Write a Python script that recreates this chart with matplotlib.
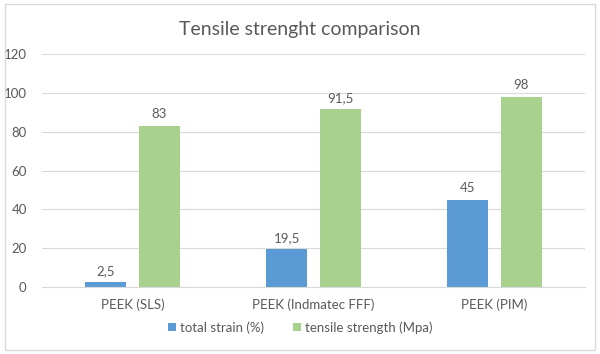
import numpy as np
import matplotlib
matplotlib.use("Agg")
import matplotlib.pyplot as plt
from matplotlib.patches import Rectangle

categories = ["PEEK (SLS)", "PEEK (Indmatec FFF)", "PEEK (PIM)"]
strain = [2.5, 19.5, 45]
strength = [83, 91.5, 98]
series_names = ["total strain (%)", "tensile strength (Mpa)"]
yticks = [0, 20, 40, 60, 80, 100, 120]

blue = "#5B9BD5"
green = "#A9D18E"
grey_text = "#595959"

plt.rcParams["font.family"] = ["Lato", "DejaVu Sans"]

fig = plt.figure(figsize=(6, 3.54), dpi=100)
ax = fig.add_axes([0.07, 0.189, 0.905, 0.658])

# chart border
fig.patches.append(Rectangle((0.008, 0.012), 0.984, 0.976, transform=fig.transFigure,
                             fill=False, edgecolor="#D9D9D9", linewidth=1))

x = np.arange(len(categories))
w = 0.227
gap = 0.067
off = (w + gap) / 2

b1 = ax.bar(x - off, strain, w, color=blue, label=series_names[0])
b2 = ax.bar(x + off, strength, w, color=green, label=series_names[1])

def fmt(v):
    s = ("%g" % v).replace(".", ",")
    return s

for bars, vals in ((b1, strain), (b2, strength)):
    for r, v in zip(bars, vals):
        ax.annotate(fmt(v), (r.get_x() + r.get_width() / 2, v), xytext=(0, 4),
                    textcoords="offset points", ha="center", va="bottom",
                    fontsize=9.5, color=grey_text)

ax.set_xlim(-0.5, 2.5)
ax.set_ylim(0, 120)
ax.set_yticks(yticks)
ax.set_xticks(x)
ax.set_xticklabels(categories)
ax.yaxis.grid(True, color="#D9D9D9", linewidth=0.8)
ax.set_axisbelow(True)
for s in ("top", "right", "left"):
    ax.spines[s].set_visible(False)
ax.spines["bottom"].set_color("#D9D9D9")
ax.tick_params(axis="both", length=0, labelsize=9.5, colors=grey_text)
ax.tick_params(axis="y", pad=11)
ax.tick_params(axis="x", pad=8)

fig.text(0.5, 0.918, "Tensile strenght comparison", ha="center", va="center",
         fontsize=14, color=grey_text)

fig.legend(handles=[b1, b2], loc="center", bbox_to_anchor=(0.5, 0.075), ncol=2,
           frameon=False, fontsize=9.5, labelcolor=grey_text,
           handlelength=0.6, handleheight=0.6, handletextpad=0.3, columnspacing=2.2)

fig.savefig("out.png", dpi=100)
